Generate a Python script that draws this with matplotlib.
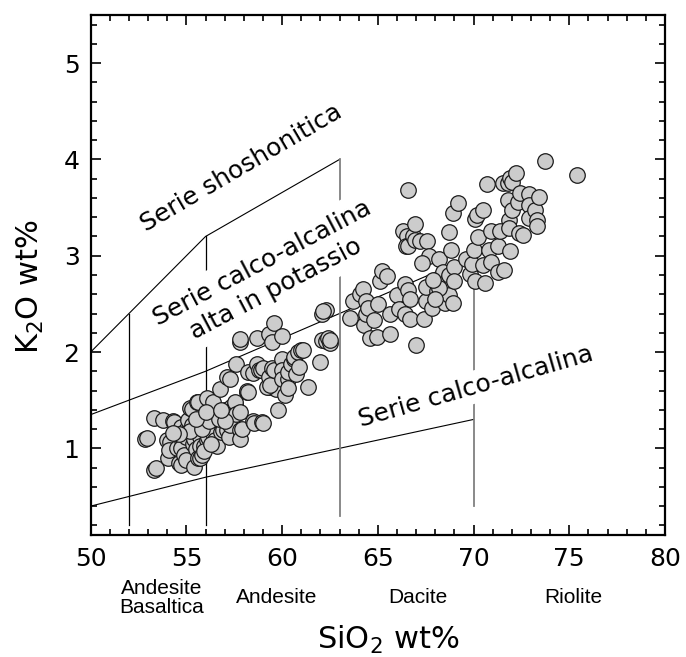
import numpy as np
import matplotlib
matplotlib.use("Agg")
import matplotlib.pyplot as plt
from matplotlib.ticker import MultipleLocator

# sample analyses (SiO2, K2O wt%)
sio2 = [
    52.85, 52.95, 53.30, 53.40, 53.30, 53.80, 54.30, 54.35, 54.70, 54.00, 54.15, 54.05,
    54.10, 54.50, 54.60, 54.70, 54.75, 54.70, 54.90, 55.00, 55.00, 55.00, 55.00, 55.10,
    55.20, 55.30, 55.30, 55.35, 55.40, 55.40, 55.50, 55.55, 55.60, 55.60, 55.70, 55.70,
    55.70, 55.80, 55.90, 56.05, 56.05, 56.10, 56.15, 56.30, 56.40, 56.40, 56.40, 56.50,
    56.60, 56.75, 56.80, 56.90, 57.00, 57.10, 57.10, 57.20, 57.30, 57.30, 57.30, 57.35,
    57.55, 57.55, 57.60, 57.80, 57.80, 57.80, 57.90, 58.15, 58.15, 58.50, 58.55, 58.95,
    59.00, 59.30, 59.70, 59.80, 60.15, 61.35,
    55.20, 55.80, 56.20, 56.70, 55.50, 56.00, 55.90, 56.30, 57.00, 56.80, 54.60, 54.30,
    57.30, 57.60, 57.80, 57.80, 58.20, 58.20, 58.50, 58.70, 58.70, 58.80, 58.90, 59.00,
    59.20, 59.30, 59.30, 59.35, 59.45, 59.45, 59.55, 59.60, 60.00, 60.00, 60.00, 60.00,
    60.30, 60.30, 60.30, 60.45, 60.60, 60.60, 60.70, 60.85, 60.90, 61.00, 61.10, 62.00,
    62.10, 62.30, 62.40, 62.50, 62.50, 62.10, 62.30, 62.15,
    63.55, 63.70, 64.05, 64.25, 64.30, 64.40, 64.40, 64.50, 64.60, 64.80, 64.95, 65.00,
    65.10, 65.20, 65.50, 65.65, 65.65, 66.00, 66.10, 66.40, 66.40, 66.60, 66.70, 66.70,
    67.00, 67.40, 67.50, 67.50, 67.85, 68.10, 66.30, 66.50, 66.45, 66.60, 66.85, 66.95,
    66.95, 67.20, 67.55, 67.65, 67.30, 66.60,
    68.20, 68.40, 68.50, 68.60, 68.70, 68.70, 68.80, 68.70, 68.90, 68.90, 69.00, 69.00,
    69.20, 69.60, 69.80, 69.90, 70.00, 70.10, 70.10, 70.20, 70.25, 70.50, 70.50, 70.60,
    70.70, 70.80, 70.90, 70.90, 71.30, 71.30, 71.40, 71.55, 71.60, 71.80, 71.80, 71.85,
    71.85, 71.90, 71.90, 72.00, 72.00, 72.20, 72.30, 72.35, 72.45, 72.60, 72.90, 72.90,
    72.90, 73.20, 73.30, 73.30, 73.40, 73.75, 75.40, 68.20, 67.90, 68.00,
]
k2o = [
    1.10, 1.11, 0.78, 0.80, 1.32, 1.29, 1.28, 1.27, 1.22, 1.09, 1.07, 0.90,
    0.98, 1.00, 0.85, 0.83, 1.09, 1.00, 0.93, 0.88, 1.19, 1.16, 1.12, 1.29,
    1.42, 1.41, 1.24, 1.05, 0.81, 1.10, 0.99, 1.48, 1.48, 0.90, 0.90, 1.12,
    1.02, 0.93, 1.02, 1.24, 1.09, 1.52, 1.12, 1.34, 1.48, 1.19, 1.16, 1.09,
    1.02, 1.62, 1.17, 1.19, 1.40, 1.74, 1.19, 1.12, 1.33, 1.35, 1.24, 1.43,
    1.46, 1.48, 1.36, 1.38, 1.19, 1.10, 1.20, 1.59, 1.60, 1.28, 1.26, 1.27,
    1.26, 1.64, 1.62, 1.40, 1.55, 1.64,
    1.18, 1.20, 1.28, 1.30, 1.30, 1.38, 0.97, 1.05, 1.28, 1.40, 1.15, 1.16,
    1.72, 1.88, 2.10, 2.14, 1.79, 1.59, 1.78, 1.88, 2.15, 1.81, 1.81, 1.83,
    1.64, 1.74, 2.19, 1.66, 1.83, 2.10, 2.30, 1.81, 1.93, 1.81, 1.72, 2.17,
    1.72, 1.63, 1.79, 1.88, 1.93, 1.95, 1.77, 2.00, 1.84, 2.02, 2.02, 1.90,
    2.12, 2.11, 2.15, 2.09, 2.13, 2.40, 2.44, 2.43,
    2.35, 2.53, 2.60, 2.65, 2.28, 2.53, 2.39, 2.46, 2.15, 2.33, 2.16, 2.50,
    2.74, 2.84, 2.79, 2.19, 2.39, 2.59, 2.45, 2.40, 2.71, 2.64, 2.55, 2.34,
    2.07, 2.34, 2.53, 2.68, 2.46, 2.63, 3.26, 3.21, 3.10, 3.10, 3.21, 3.33,
    3.16, 3.15, 3.15, 3.00, 2.92, 3.68,
    2.97, 2.83, 2.51, 2.74, 2.80, 2.59, 3.06, 3.25, 2.51, 3.44, 2.88, 2.74,
    3.55, 2.97, 2.81, 2.91, 3.06, 2.74, 3.38, 3.42, 3.19, 3.48, 2.90, 2.72,
    3.74, 3.06, 3.26, 2.93, 3.10, 2.83, 3.26, 3.76, 2.85, 3.76, 3.58, 3.37,
    3.29, 3.05, 3.81, 3.77, 3.48, 3.86, 3.56, 3.24, 3.65, 3.22, 3.64, 3.53,
    3.39, 3.48, 3.37, 3.31, 3.61, 3.98, 3.84, 2.67, 2.75, 2.55,
]

# series boundaries
sho_x, sho_y = [50, 56, 63], [2.0, 3.2, 4.0]
hk_x, hk_y = [50, 52, 56, 63, 70], [1.35, 1.5, 1.8, 2.4, 3.0]
lk_x, lk_y = [50, 52, 56, 63, 70], [0.4, 0.5, 0.7, 1.0, 1.3]
div_x = [52, 56, 63, 70]
div_lo = [0.2, 0.2, 0.3, 0.4]
div_hi = [2.4, 3.2, 4.0, 3.0]
div_col = ["black", "black", "#808080", "#808080"]

rock_names = ["Andesite\nBasaltica", "Andesite", "Dacite", "Riolite"]
rock_x = [53.7, 59.7, 67.1, 75.2]

plt.rcParams["font.family"] = ["DejaVu Sans"]
fig = plt.figure(figsize=(6.86, 6.57), dpi=100)
ax = fig.add_axes([0.1322, 0.1857, 0.8372, 0.7915])

ax.plot(sho_x, sho_y, color="black", lw=0.8, zorder=1)
ax.plot(hk_x, hk_y, color="black", lw=0.8, zorder=1)
ax.plot(lk_x, lk_y, color="black", lw=0.8, zorder=1)
for x, lo, hi, c in zip(div_x, div_lo, div_hi, div_col):
    ax.plot([x, x], [lo, hi], color=c, lw=0.9 if c == "black" else 1.3, zorder=1)

ax.text(57.85, 3.91, "Serie shoshonitica", rotation=30.4, rotation_mode="anchor",
        ha="center", va="center", fontsize=18, zorder=2,
        bbox=dict(facecolor="white", edgecolor="none", pad=3))
ax.text(59.3, 2.79, "Serie calco-alcalina\nalta in potassio", rotation=27.8,
        rotation_mode="anchor", ha="center", va="center", multialignment="center",
        fontsize=18, zorder=2, linespacing=1.3,
        bbox=dict(facecolor="white", edgecolor="none", pad=5))
ax.text(70.1, 1.64, "Serie calco-alcalina", rotation=16, rotation_mode="anchor",
        ha="center", va="center", fontsize=18, zorder=2,
        bbox=dict(facecolor="white", edgecolor="none", pad=3))

ax.scatter(sio2, k2o, s=125, facecolor="#cccccc", edgecolor="#1a1a1a", lw=0.9, zorder=3)

ax.set_xlim(50, 80)
ax.set_ylim(0.1, 5.5)
ax.xaxis.set_major_locator(MultipleLocator(5))
ax.xaxis.set_minor_locator(MultipleLocator(1))
ax.yaxis.set_major_locator(MultipleLocator(1))
ax.yaxis.set_minor_locator(MultipleLocator(0.2))
ax.tick_params(which="both", direction="in", top=True, right=True, width=1.2)
ax.tick_params(which="major", length=7.5, labelsize=18)
ax.tick_params(axis="x", which="major", pad=9)
ax.tick_params(axis="y", which="major", pad=8)
ax.tick_params(which="minor", length=4)
for s in ax.spines.values():
    s.set_linewidth(1.6)

for nm, x in zip(rock_names, rock_x):
    ax.text(x, -0.121, nm, transform=ax.get_xaxis_transform(), ha="center", va="center",
            fontsize=15, family="Liberation Sans", linespacing=1.0)

fig.text(388 / 686, 1 - 640 / 657, r"SiO$_2$ wt%", ha="center", va="center", fontsize=22)
fig.text(30 / 686, 1 - 287 / 657, r"K$_2$O wt%", ha="center", va="center", fontsize=22,
         rotation=90)

fig.savefig("out.png", dpi=100)
